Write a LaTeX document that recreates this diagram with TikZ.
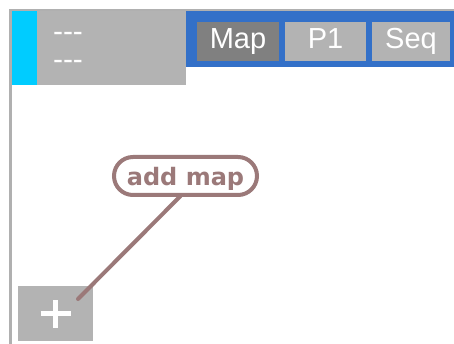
\documentclass[tikz,border=0pt]{standalone}
\usepackage{fontspec}
\setmainfont{Liberation Sans}
\newfontfamily\bubblefont{DejaVu Sans}
\definecolor{framegray}{RGB}{176,176,176}
\definecolor{boxgray}{RGB}{179,179,179}
\definecolor{darkbtn}{RGB}{128,128,128}
\definecolor{cyanbar}{RGB}{0,204,255}
\definecolor{tabblue}{RGB}{51,112,200}
\definecolor{bubblec}{RGB}{155,121,121}
\tikzset{
  tabbtn/.style={fill=boxgray, inner sep=0, minimum height=39, text=white,
    font=\fontsize{29}{30}\selectfont, text height=21, text depth=6},
  dashtxt/.style={text=white, inner sep=0, anchor=base, font=\fontsize{30}{30}\selectfont},
  bubble/.style={draw=bubblec, line width=4, rounded corners=19, fill=white,
    inner sep=0, minimum width=143, minimum height=38, text=bubblec,
    font=\bubblefont\bfseries\fontsize{24}{24}\selectfont, text height=20, text depth=0},
  link/.style={draw=bubblec, line width=4, line cap=round}
}
\begin{document}
\begin{tikzpicture}[x=1pt,y=-1pt]
\fill[white] (0,0) rectangle (454,344);
\useasboundingbox (0,0) rectangle (454,344);
% frame lines
\fill[framegray] (9,9) rectangle (454,11);
\fill[framegray] (9,9) rectangle (12,344);
% header
\fill[cyanbar] (12,11) rectangle (37,85);
\node[fill=boxgray, inner sep=0, minimum width=149, minimum height=74, anchor=north west] (hdr) at (37,11) {};
\node[dashtxt] (d1) at (68,42) {\mbox{-}\mbox{-}\mbox{-}};
\node[dashtxt] (d2) at (68,70) {\mbox{-}\mbox{-}\mbox{-}};
% tab bar
\node[fill=tabblue, inner sep=0, minimum width=268, minimum height=56, anchor=north west] (tabs) at (186,11) {};
\node[tabbtn, fill=darkbtn, minimum width=82] (map) at (238,41.5) {Map};
\node[tabbtn, minimum width=81] (p1) at (325.5,41.5) {P1};
\node[tabbtn, minimum width=78] (seq) at (411,41.5) {Seq};
% plus box
\node[fill=boxgray, inner sep=0, minimum width=75, minimum height=55, anchor=north west] (plus) at (18,286) {};
\draw[white, line width=5] ([xshift=-15]plus.center) -- ([xshift=15]plus.center);
\draw[white, line width=5] ([yshift=-14]plus.center) -- ([yshift=14]plus.center);
% bubble and link
\coordinate (tip) at (78,299);
\node[bubble] (addmap) at (185.5,176) {add map};
\draw[link] ([xshift=-5,yshift=1]addmap.south) -- (tip);
\end{tikzpicture}
\end{document}
